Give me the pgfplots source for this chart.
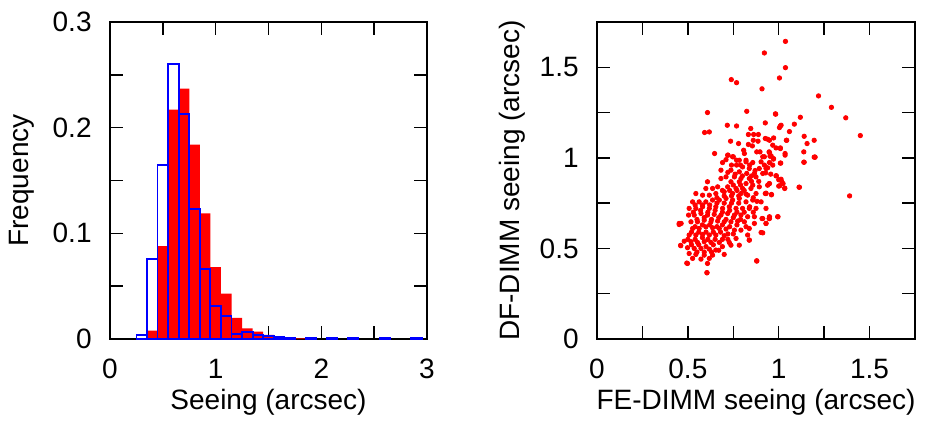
\documentclass[border=0pt]{standalone}
\usepackage{pgfplots}
\pgfplotsset{compat=1.18}
\usepackage{fontspec}
\setmainfont{Liberation Sans}
\newcommand{\lbl}{\fontsize{14}{16.5}\selectfont}
\pgfplotsset{
  myax/.style={
    scale only axis,
    height=158.5pt,
    tick align=inside,
    major tick length=6.5pt,
    minor tick length=6.5pt,
    tick style={black, line width=0.75pt},
    minor tick style={black, line width=0.75pt},
    axis line style={line width=0.85pt},
    /pgf/number format/assume math mode=true,
    tick label style={font=\lbl},
    yticklabel style={anchor=east, inner sep=0pt, xshift=-9pt},
    xticklabel style={anchor=base, inner sep=0pt, yshift=-19.5pt},
    every axis x label/.style={at={(axis description cs:0.5,0)}, anchor=base, inner sep=0pt, yshift=-35pt, font=\lbl},
  }
}
\begin{document}
\begin{tikzpicture}
\path[use as bounding box] (0,0) rectangle (464.5pt,211.5pt);
\begin{axis}[myax,
  at={(55pt,42pt)}, anchor=south west,
  width=158.5pt,
  xmin=0, xmax=3, ymin=0, ymax=0.3,
  xtick={0,1,2,3}, minor xtick={0.5,1.5,2.5},
  ytick={0,0.1,0.2,0.3}, minor ytick={0.05,0.15,0.25},
  xlabel={Seeing (arcsec)},
  ylabel={Frequency},
  every axis y label/.style={at={(axis description cs:-0.2776,0.5)}, rotate=90, anchor=center, inner sep=0pt, font=\lbl},
]
\addplot[ybar interval, fill=red, draw=none] coordinates {
(0.35,0.008) (0.45,0.088) (0.55,0.217) (0.65,0.237) (0.75,0.184) (0.85,0.119)
(0.95,0.068) (1.05,0.043) (1.15,0.020) (1.25,0.010) (1.35,0.007) (1.45,0.004)
(1.55,0.002) (1.65,0.001) (1.75,0.0006) (1.85,0.0004) (1.95,0.0)
};
\addplot[ybar interval, draw=blue, fill=none, line width=0.9pt] coordinates {
(0.25,0.004) (0.35,0.076) (0.45,0.165) (0.55,0.260) (0.65,0.213) (0.75,0.123)
(0.85,0.066) (0.95,0.031) (1.05,0.022) (1.15,0.005) (1.25,0.007) (1.35,0.004)
(1.45,0.0025) (1.55,0.002) (1.65,0.0015) (1.75,0.0)
};
\addplot[ybar interval, draw=blue, fill=none, line width=0.9pt] coordinates {
(1.85,0.001) (1.95,0.0)
};
\addplot[ybar interval, draw=blue, fill=none, line width=0.9pt] coordinates {
(2.05,0.001) (2.15,0.0)
};
\addplot[ybar interval, draw=blue, fill=none, line width=0.9pt] coordinates {
(2.25,0.0008) (2.35,0.0)
};
\addplot[ybar interval, draw=blue, fill=none, line width=0.9pt] coordinates {
(2.55,0.0008) (2.65,0.0)
};
\addplot[ybar interval, draw=blue, fill=none, line width=0.9pt] coordinates {
(2.85,0.0015) (2.95,0.0)
};
\end{axis}
\begin{axis}[myax,
  at={(298.5pt,42pt)}, anchor=south west,
  width=159pt,
  xmin=0, xmax=1.75, ymin=0, ymax=1.75,
  xtick={0,0.5,1,1.5}, minor xtick={0.25,0.75,1.25,1.75},
  ytick={0,0.5,1,1.5}, minor ytick={0.25,0.75,1.25,1.75},
  xlabel={FE-DIMM seeing (arcsec)},
  ylabel={DF-DIMM seeing (arcsec)},
  every axis y label/.style={at={(axis description cs:-0.267,0.5)}, rotate=90, anchor=center, inner sep=0pt, font=\lbl},
]
\addplot[only marks, mark=*, mark size=1.1pt, color=red, mark options={draw=red, fill=red}] coordinates {
(1.037,1.643) (0.921,1.579) (1.037,1.498) (1.004,1.441) (0.739,1.432) (0.768,1.415)
(0.908,1.381) (1.219,1.342) (1.290,1.279) (1.369,1.221) (1.449,1.123) (1.390,0.790)
(0.608,1.250) (0.824,1.257) (0.982,1.243) (1.119,1.224) (1.086,1.186) (1.009,1.176)
(1.004,1.167) (0.717,1.180) (0.768,1.176) (0.846,1.162) (0.592,1.140) (0.618,1.143)
(1.059,1.145) (1.140,1.119) (1.156,1.079) (1.195,1.097) (1.138,1.033) (1.195,1.004)
(1.138,0.976) (1.112,0.838) (1.042,1.097) (1.009,1.055) (1.009,0.971) (1.033,0.833)
(0.994,0.675) (0.879,0.432) (0.605,0.366) (0.494,0.419) (0.460,0.517) (0.452,0.632)
(0.463,0.638) (0.647,1.024) (0.912,0.586) (0.949,0.665) (0.908,0.665) (0.838,0.546)
(0.960,0.798) (0.926,0.803) (0.949,0.858) (1.006,0.846) (1.018,0.866) (0.985,0.901)
(0.926,1.193) (0.833,1.129) (0.862,1.129) (0.888,1.129) (0.735,1.092) (0.779,1.079)
(0.860,1.097) (0.886,1.092) (0.926,1.107) (0.939,1.103) (0.833,1.074) (0.855,1.066)
(0.721,1.015) (0.746,1.006) (0.807,1.042) (0.811,1.024) (0.879,1.033) (0.897,1.033)
(0.912,1.006) (0.949,1.029) (0.768,0.987) (0.820,0.987)
(0.983,1.241) (1.013,1.180) (1.044,1.097) (0.972,1.110) (0.949,1.097) (0.967,1.070)
(0.985,1.055) (1.009,1.051) (0.947,1.033) (1.035,1.024) (1.199,1.004) (0.958,1.011)
(0.971,0.996)
(0.921,1.006) (0.952,1.009) (0.971,0.993) (1.035,1.015) (1.200,1.004) (1.140,0.976)
(1.011,0.971) (0.967,0.960) (0.939,0.945) (0.921,0.960) (0.928,0.917) (0.956,0.910)
(0.987,0.901) (1.000,0.879) (1.013,0.882) (1.024,0.858) (1.000,0.844) (1.033,0.831)
(1.114,0.838) (0.947,0.857) (0.930,0.805) (0.960,0.796) (0.996,0.675) (0.947,0.665)
(0.930,0.638)
(0.719,1.015) (0.750,1.006) (0.783,0.987) (0.820,0.978) (0.857,0.974) (0.903,0.978)
(0.949,0.974) (0.691,0.974) (0.768,0.960) (0.801,0.950) (0.838,0.941) (0.893,0.941)
(0.930,0.941) (0.682,0.932) (0.737,0.932) (0.783,0.923) (0.824,0.914) (0.866,0.914)
(0.912,0.914) (0.710,0.895) (0.756,0.895) (0.792,0.886) (0.838,0.886) (0.875,0.895)
(0.682,0.886) (0.737,0.868) (0.783,0.868) (0.820,0.858) (0.857,0.849) (0.893,0.840)
(0.939,0.849) (0.719,0.840) (0.765,0.831) (0.801,0.831) (0.847,0.831) (0.608,0.868)
(0.636,0.831) (0.599,0.831) (0.664,0.840) (0.544,0.803) (0.581,0.794) (0.618,0.794)
(0.654,0.803) (0.700,0.813) (0.746,0.803) (0.792,0.803) (0.829,0.794) (0.875,0.803)
(0.930,0.803)
(0.526,0.757) (0.562,0.757) (0.599,0.757) (0.636,0.767) (0.673,0.767) (0.710,0.776)
(0.746,0.767) (0.783,0.776) (0.820,0.757) (0.857,0.767) (0.903,0.757) (0.507,0.721)
(0.544,0.721) (0.581,0.730) (0.618,0.721) (0.654,0.730) (0.691,0.721) (0.728,0.730)
(0.765,0.721) (0.801,0.721) (0.838,0.721) (0.875,0.721) (0.930,0.721) (0.504,0.684)
(0.535,0.684) (0.572,0.693) (0.608,0.684) (0.645,0.688) (0.682,0.684) (0.719,0.693)
(0.756,0.684) (0.792,0.684) (0.829,0.675) (0.866,0.675) (0.912,0.665) (0.949,0.675)
(0.452,0.638) (0.517,0.647) (0.553,0.647) (0.590,0.656) (0.627,0.647) (0.664,0.651)
(0.700,0.647) (0.737,0.647) (0.774,0.651) (0.811,0.647) (0.866,0.638) (0.930,0.638)
(0.526,0.610) (0.562,0.610) (0.599,0.619) (0.636,0.614) (0.673,0.610) (0.710,0.607)
(0.756,0.601) (0.792,0.601) (0.838,0.610) (0.903,0.588) (0.507,0.574) (0.544,0.574)
(0.581,0.577) (0.618,0.574) (0.654,0.574) (0.700,0.570) (0.765,0.555) (0.829,0.574)
(0.480,0.540) (0.517,0.537) (0.553,0.533) (0.590,0.537) (0.627,0.533) (0.673,0.533)
(0.728,0.533) (0.783,0.518) (0.838,0.546) (0.461,0.515) (0.498,0.504) (0.535,0.500)
(0.572,0.500) (0.618,0.496) (0.654,0.491) (0.737,0.518) (0.507,0.472) (0.544,0.467)
(0.590,0.463) (0.636,0.463) (0.700,0.467) (0.526,0.445) (0.572,0.441) (0.618,0.445)
(0.498,0.417) (0.608,0.417) (0.879,0.430) (0.605,0.366)
(0.54,0.74) (0.58,0.74) (0.62,0.74) (0.66,0.75) (0.70,0.75) (0.74,0.75) (0.78,0.75)
(0.53,0.70) (0.57,0.71) (0.61,0.70) (0.65,0.71) (0.69,0.70) (0.73,0.71) (0.77,0.70) (0.81,0.70)
(0.55,0.66) (0.59,0.67) (0.63,0.66) (0.67,0.67) (0.71,0.66) (0.75,0.67) (0.79,0.66)
(0.54,0.62) (0.58,0.63) (0.62,0.63) (0.66,0.62) (0.69,0.63) (0.73,0.62) (0.77,0.63) (0.82,0.62)
(0.52,0.59) (0.56,0.59) (0.60,0.59) (0.64,0.59) (0.68,0.59) (0.72,0.58) (0.75,0.58)
(0.50,0.55) (0.54,0.55) (0.58,0.56) (0.61,0.55) (0.65,0.55) (0.69,0.55) (0.72,0.55)
(0.52,0.52) (0.56,0.52) (0.60,0.51) (0.64,0.52) (0.69,0.51)
(0.55,0.48) (0.59,0.48) (0.63,0.48) (0.67,0.49)
(0.66,0.78) (0.70,0.79) (0.74,0.79) (0.78,0.79) (0.69,0.82) (0.73,0.82) (0.77,0.82) (0.81,0.82)
(0.75,0.85) (0.79,0.85) (0.85,0.87) (0.76,0.91) (0.80,0.90) (0.72,0.92) (0.74,0.96) (0.79,0.96)
(0.71,0.99) (0.84,0.96) (0.87,0.93) (0.85,0.90) (0.89,0.87) (0.82,0.80) (0.86,0.78) (0.88,0.76)
(0.84,0.73) (0.86,0.70)
};
\end{axis}
\end{tikzpicture}
\end{document}
